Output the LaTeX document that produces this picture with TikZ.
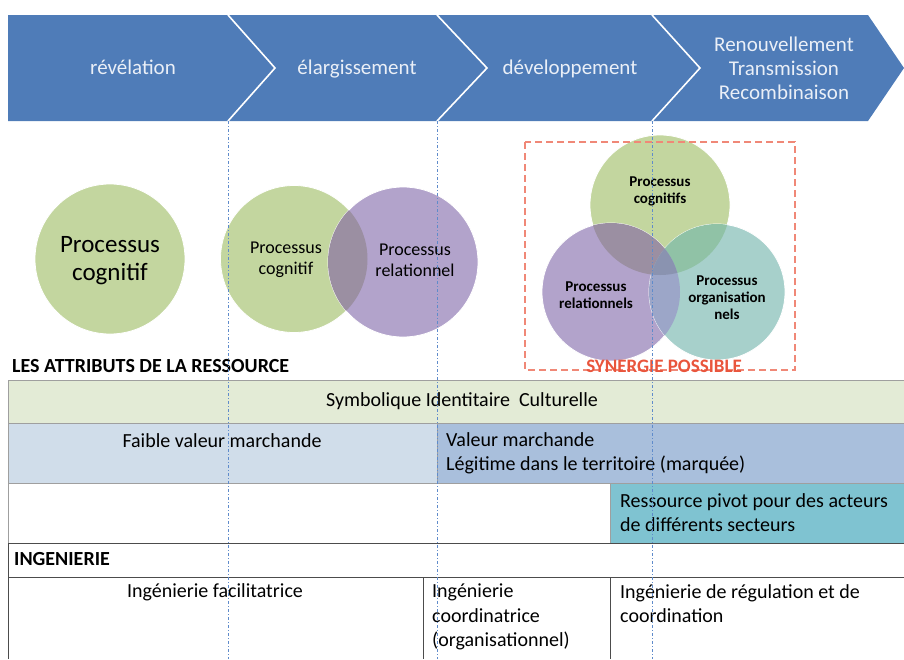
\documentclass[tikz,border=0pt]{standalone}
\usepackage{fontspec}
\setmainfont{Carlito}
\usepackage{xcolor}
\usetikzlibrary{positioning}

\definecolor{chevblue}{HTML}{4F7CB8}
\definecolor{cogreen}{HTML}{C3D69F}
\definecolor{relpurple}{HTML}{B2A3CB}
\definecolor{orgteal}{HTML}{A7D0CB}
\definecolor{ovgp}{HTML}{9B8FA2}
\definecolor{ovgt}{HTML}{90C2A6}
\definecolor{ovpt}{HTML}{9CA6C8}
\definecolor{ovgpt}{HTML}{8A93B0}
\definecolor{rowgreen}{HTML}{E3EBD6}
\definecolor{rowblue}{HTML}{D0DDEA}
\definecolor{rowblue2}{HTML}{A9BFDC}
\definecolor{rowteal}{HTML}{7FC3D1}
\definecolor{synred}{HTML}{E9553C}
\definecolor{guideblue}{HTML}{5F8BCB}

\begin{document}
\begin{tikzpicture}[
    x=1pt, y=-1pt,
    chevtext/.style={text=white!88!chevblue, font=\fontsize{21}{24}\selectfont, align=center},
    chevsingle/.style={chevtext, text height=14pt, text depth=4pt},
    proc/.style={circle, minimum size=#1, inner sep=0pt, draw=white, line width=0.8pt},
    proctext/.style={align=center, font=\fontsize{18}{21}\selectfont},
    proctextsmall/.style={align=center, font=\bfseries\fontsize{15}{17}\selectfont},
    cell/.style={draw=gray!75, line width=0.8pt},
    celltext/.style={font=\fontsize{20}{24.5}\selectfont, align=left, inner sep=0pt},
    heading/.style={font=\bfseries\fontsize{20}{22}\selectfont, inner sep=0pt},
    guide/.style={draw=guideblue, line width=0.8pt, dash pattern=on 3pt off 2pt on 1pt off 2pt},
]
\useasboundingbox (0,0) rectangle (904,659);

% chevrons
\fill[chevblue] (8,15) -- (868,15) -- (904,68) -- (868,121) -- (8,121) -- cycle;
\draw[white, line width=1.6pt] (228,15) -- (275,68) -- (228,121);
\draw[white, line width=1.6pt] (437,15) -- (487,68) -- (437,121);
\draw[white, line width=1.6pt] (652,15) -- (700,68) -- (652,121);
\node[chevsingle] (revel) at (133,69) {révélation};
\node[chevsingle] (elarg) at (357,69) {élargissement};
\node[chevsingle] (devel) at (570,69) {développement};
\node[chevtext] (renouv) at (784,68) {Renouvellement\\Transmission\\Recombinaison};

% circles
\node[proc=150pt, fill=cogreen] (cogA) at (110,259) {};
\node[proctext, font=\fontsize{25}{28}\selectfont] (cogAtxt) at (110,261) {Processus\\cognitif};

\node[proc=147pt, fill=cogreen] (cogB) at (294,259) {};
\node[proc=150pt, fill=relpurple] (relB) at (403,262) {};
\begin{scope}
  \clip (294,259) circle (73.5);
  \fill[ovgp] (403,262) circle (75);
\end{scope}
\node[proctext] (cogBtxt) at (286,260) {Processus\\cognitif};
\node[proctext] (relBtxt) at (415,260) {Processus\\relationnel};

\node[proc=140pt, fill=cogreen] (cogC) at (660,205) {};
\node[proc=138pt, fill=relpurple] (relC) at (611,292) {};
\node[proc=136pt, fill=orgteal] (orgC) at (717,292) {};
\begin{scope}
  \clip (660,205) circle (70);
  \fill[ovgp] (611,292) circle (69);
\end{scope}
\begin{scope}
  \clip (660,205) circle (70);
  \fill[ovgt] (717,292) circle (68);
\end{scope}
\begin{scope}
  \clip (611,292) circle (69);
  \fill[ovpt] (717,292) circle (68);
\end{scope}
\begin{scope}
  \clip (660,205) circle (70);
  \clip (611,292) circle (69);
  \fill[ovgpt] (717,292) circle (68);
\end{scope}
\node[proctextsmall] (cogCtxt) at (660,191) {Processus\\cognitifs};
\node[proctextsmall] (relCtxt) at (596,295) {Processus\\relationnels};
\node[proctextsmall] (orgCtxt) at (727,298) {Processus\\organisation\\nels};

\draw[synred!70!white, line width=1.6pt, dash pattern=on 7pt off 4pt] (525,142) rectangle (795,370);
\node[font=\bfseries\fontsize{19}{20}\selectfont, text=synred] (synergie) at (664,366) {SYNERGIE POSSIBLE};

% resource attributes
\node[heading, anchor=west] (attributs) at (12,366) {LES ATTRIBUTS DE LA RESSOURCE};

\path[cell, fill=rowgreen] (8,380) rectangle (904,423);
\path[cell, fill=rowblue] (8,423) rectangle (437,483);
\path[cell, fill=rowblue2] (437,423) rectangle (904,483);
\path[cell, fill=white] (8,483) rectangle (610,543);
\path[cell, fill=rowteal] (610,483) rectangle (904,543);
\node[celltext] (symb) at (462,401) {Symbolique Identitaire\ \ Culturelle};
\node[celltext] (faible) at (222,441) {Faible valeur marchande};
\node[celltext, anchor=north west] (valeur) at (446,432) {Valeur marchande\\Légitime dans le territoire (marquée)};
\node[celltext, anchor=north west] (pivot) at (620,493) {Ressource pivot pour des acteurs\\de différents secteurs};

% ingenierie
\draw[black!70, line width=0.8pt] (8,543) -- (904,543);
\draw[black!70, line width=0.8pt] (8,543) -- (8,659);
\node[heading, anchor=west] (ingenierie) at (14,559) {INGENIERIE};
\draw[black!70, line width=0.8pt] (8,577) -- (904,577);
\draw[black!70, line width=0.8pt] (423,577) -- (423,659);
\draw[black!70, line width=0.8pt] (610,577) -- (610,659);
\node[celltext] (facil) at (215,592) {Ingénierie facilitatrice};
\node[celltext, anchor=north west] (coord) at (432,584) {Ingénierie\\coordinatrice\\(organisationnel)};
\node[celltext, anchor=north west] (regul) at (620,584) {Ingénierie de régulation et de\\coordination};

% guides
\draw[guide] (228,121) -- (228,659);
\draw[guide] (437,121) -- (437,659);
\draw[guide] (652,121) -- (652,659);
\end{tikzpicture}
\end{document}
